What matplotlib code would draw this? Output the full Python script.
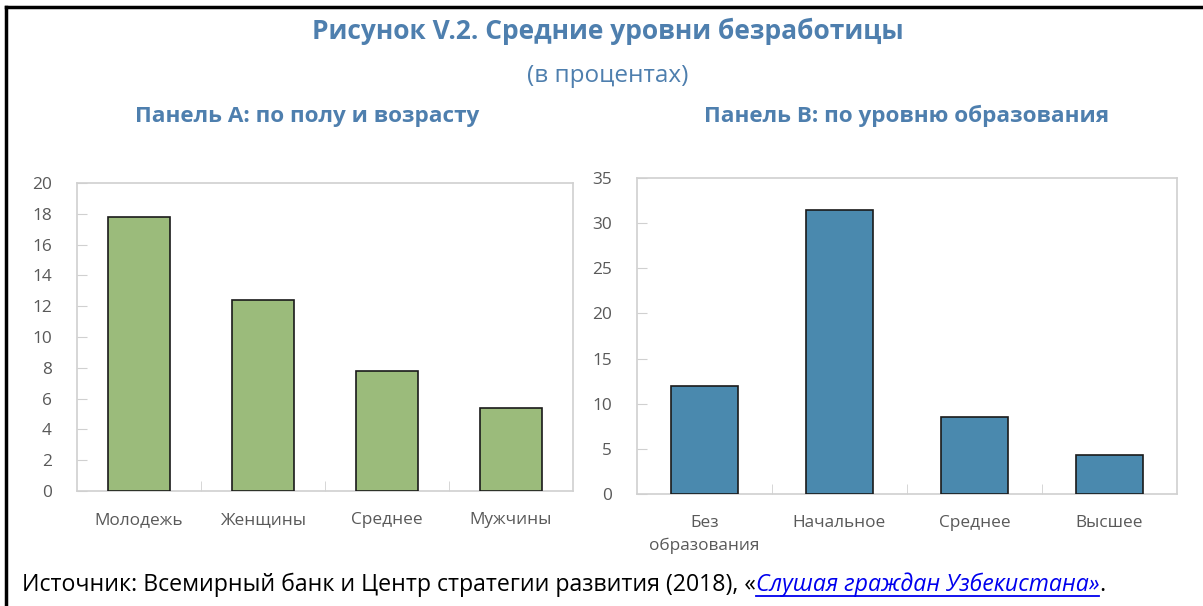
import matplotlib
matplotlib.use('Agg')
import matplotlib.pyplot as plt
from matplotlib.lines import Line2D

plt.rcParams['font.family'] = ['Open Sans', 'DejaVu Sans']

# data
cats_a = ['Молодежь', 'Женщины', 'Среднее', 'Мужчины']
vals_a = [17.8, 12.4, 7.8, 5.4]
cats_b = ['Без\nобразования', 'Начальное', 'Среднее', 'Высшее']
vals_b = [12.0, 31.5, 8.5, 4.3]

title_col = '#4E7FAE'
tick_col = '#595959'
spine_col = '#D0D0D0'

fig = plt.figure(figsize=(12.03, 6.06), dpi=100)

def panel(rect, cats, vals, color, ymax, step):
    ax = fig.add_axes(rect)
    x = range(len(cats))
    ax.bar(x, vals, width=0.5, color=color, edgecolor='#1a1a1a', linewidth=1.2, zorder=3)
    ax.set_xlim(-0.5, len(cats) - 0.5)
    ax.set_ylim(0, ymax)
    ax.set_yticks(range(0, ymax + 1, step))
    ax.set_xticks(list(x))
    ax.set_xticklabels(cats, fontsize=12.4, color=tick_col, linespacing=1.55)
    ax.set_xticks([i + 0.5 for i in range(len(cats) - 1)], minor=True)
    ax.tick_params(axis='x', which='major', length=0, pad=15)
    ax.tick_params(axis='x', which='minor', direction='in', length=7, color=spine_col)
    ax.tick_params(axis='y', direction='in', length=7, color=spine_col,
                   labelsize=12.4, labelcolor=tick_col, pad=18)
    for s in ax.spines.values():
        s.set_color(spine_col)
        s.set_linewidth(1.2)
    return ax

panel([0.064, 0.1898, 0.4123, 0.5082], cats_a, vals_a, '#9BBB7B', 20, 2)
panel([0.5295, 0.1848, 0.4489, 0.5215], cats_b, vals_b, '#4A89AE', 35, 5)

fig.text(0.505, 0.948, 'Рисунок V.2. Средние уровни безработицы', ha='center', va='center',
         fontsize=19, fontweight='bold', color=title_col)
fig.text(0.505, 0.875, '(в процентах)', ha='center', va='center', fontsize=17.5, color=title_col)
fig.text(0.255, 0.808, 'Панель А: по полу и возрасту', ha='center', va='center',
         fontsize=16.2, fontweight='bold', color=title_col)
fig.text(0.754, 0.808, 'Панель B: по уровню образования', ha='center', va='center',
         fontsize=16.2, fontweight='bold', color=title_col)

# source line built from pieces
fig.canvas.draw()
r = fig.canvas.get_renderer()
inv = fig.transFigure.inverted()
x0, y0 = 0.018, 0.024
t1 = fig.text(x0, y0, 'Источник: Всемирный банк и Центр стратегии развития (2018), «',
              fontsize=16.7, color='black', va='baseline')
bb = t1.get_window_extent(r)
x1 = inv.transform((bb.x1, 0))[0]
t2 = fig.text(x1, y0, 'Слушая граждан Узбекистана»', fontsize=16.7, color='#0000EE',
              style='italic', va='baseline')
bb2 = t2.get_window_extent(r)
x2 = inv.transform((bb2.x1, 0))[0]
fig.text(x2, y0, '.', fontsize=16.7, color='black', va='baseline')
fig.add_artist(Line2D([x1, x2], [y0 - 0.007, y0 - 0.007], color='#0000EE', lw=1.3))

# frame lines left and top
fig.add_artist(Line2D([0.005, 0.005], [0, 0.988], color='black', lw=2.5))
fig.add_artist(Line2D([0.005, 1.0], [0.988, 0.988], color='black', lw=2.5))

fig.savefig('out.png', dpi=100)
